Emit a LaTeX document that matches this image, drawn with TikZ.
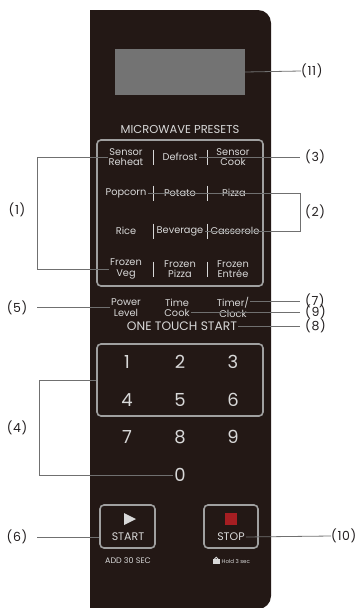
\documentclass[tikz,border=0pt]{standalone}
\usepackage{fontspec}
\setmainfont{Poppins}
\newfontfamily\labfont[LetterSpace=5]{Poppins}
\definecolor{panelc}{HTML}{231815}
\definecolor{dispc}{HTML}{737373}
\definecolor{framec}{HTML}{A0A0A0}
\definecolor{txtc}{HTML}{D8D8D8}
\definecolor{connc}{HTML}{707070}
\definecolor{labc}{HTML}{231F20}
\definecolor{redc}{HTML}{A61E22}
\begin{document}
\begin{tikzpicture}[x=1pt,y=-1pt,
  ptxt/.style={text=txtc, font=\fontsize{9.8}{10.3}\selectfont, align=center, inner sep=1pt},
  smalltxt/.style={text=txtc, inner sep=0.5pt},
  lab/.style={text=labc, font=\labfont\fontsize{12.5}{13}\selectfont, inner sep=0pt},
  conn/.style={draw=connc, line width=0.8pt},
  frame/.style={draw=framec, line width=1.6pt, rounded corners=4pt, inner sep=0pt},
  sepline/.style={draw=txtc, line width=1.1pt},
  digit/.style={text=txtc, font=\fontsize{18}{18}\selectfont, inner sep=0pt},
  btn/.style={text=txtc, font=\fontsize{11}{12}\selectfont, inner sep=1pt}]
\useasboundingbox (0,0) rectangle (360,608);
% panel
\fill[panelc, rounded corners=13pt] (90,10) rectangle (271,609);
\fill[panelc] (90,10) rectangle (180,609);
% display
\node[fill=dispc, minimum width=130, minimum height=46, inner sep=0pt] (disp) at (180,72) {};
\node[lab, anchor=west] (l11) at (301,71) {(11)};
\draw[conn] (disp.east) -- (l11.west);
% presets
\node[text=txtc, font=\fontsize{11.5}{12}\selectfont, inner sep=0pt] (mp) at (180,129) {MICROWAVE PRESETS};
\node[frame, minimum width=166, minimum height=146] (pf) at (180,213) {};
\node[ptxt] (sr) at (126,157) {Sensor\\Reheat};
\node[ptxt] (df) at (180,157) {Defrost};
\node[ptxt] (sc) at (233,157) {Sensor\\Cook};
\node[ptxt] (pc) at (126,193) {Popcorn};
\node[ptxt] (pt) at (180,193) {Potato};
\node[ptxt] (pz) at (234,193) {Pizza};
\node[ptxt] (rc) at (126,231) {Rice};
\node[ptxt] (bv) at (180,231) {Beverage};
\node[ptxt] (cs) at (235,231) {Casserole};
\node[ptxt] (fv) at (126,269) {Frozen\\Veg};
\node[ptxt] (fp) at (180,269) {Frozen\\Pizza};
\node[ptxt] (fe) at (233,269) {Frozen\\Entrée};
\foreach \r in {157,193,231,269}{
  \draw[sepline] (153.3,\r-7.5) -- (153.3,\r+7.5);
  \draw[sepline] (207.3,\r-7.5) -- (207.3,\r+7.5);
}
% (1)
\node[lab] (l1) at (17,210) {(1)};
\coordinate (b1t) at (37,157);
\coordinate (b1b) at (37,269);
\draw[conn] (sr.west) -- (b1t) -- (b1b) -- (fv.west);
% (3)
\node[lab, anchor=west] (l3) at (305,157) {(3)};
\draw[conn] (df.east) -- ([xshift=-5pt]l3.west);
% (2)
\node[lab, anchor=west] (l2) at (305,212) {(2)};
\coordinate (c2) at (300,193);
\draw[conn] (pc.east) -- (c2) |- (bv.east);
% power / time / timer
\node[ptxt] (pl) at (126,307.5) {Power\\Level};
\node[ptxt] (tk) at (177,307.5) {Time\\Cook};
\node[ptxt] (tm) at (233,307.5) {Timer/\\Clock};
\node[lab] (l5) at (17,307.5) {(5)};
\draw[conn] ([xshift=10pt]l5.east) -- (pl.west);
\node[lab, anchor=west] (l7) at (305,301) {(7)};
\draw[conn] ([yshift=6.5pt]tm.east) -- ([xshift=-5pt]l7.west);
\node[lab, anchor=west] (l9) at (305,312) {(9)};
\draw[conn] ([yshift=-4.5pt]tk.east) -- ([xshift=-5pt]l9.west);
% one touch start
\node[text=txtc, font=\fontsize{12.3}{13}\selectfont, inner sep=1pt] (ots) at (182,326) {ONE TOUCH START};
\node[lab, anchor=west] (l8) at (305,326) {(8)};
\draw[conn] (ots.east) -- ([xshift=-5pt]l8.west);
% keypad
\node[frame, minimum width=166, minimum height=72] (kp) at (180,380) {};
\node[digit] (d1) at (127,362) {1};
\node[digit] (d2) at (180,362) {2};
\node[digit] (d3) at (233,362) {3};
\node[digit] (d4) at (127,400) {4};
\node[digit] (d5) at (180,400) {5};
\node[digit] (d6) at (233,400) {6};
\node[digit] (d7) at (127,437) {7};
\node[digit] (d8) at (180,437) {8};
\node[digit] (d9) at (233,437) {9};
\node[digit] (d0) at (180,475) {0};
\node[lab] (l4) at (17,428) {(4)};
\coordinate (b4t) at (39,380);
\coordinate (b4b) at (39,475);
\draw[conn] (kp.west) -- (b4t) -- (b4b) -- ([xshift=-1pt]d0.west);
% start / stop
\node[frame, minimum width=55, minimum height=43] (sfr) at (127.5,526.5) {};
\node[frame, minimum width=54, minimum height=43] (tfr) at (231,526.5) {};
\fill[txtc] (124,513) -- (136,519) -- (124,525) -- cycle;
\fill[redc] (225,513) rectangle (237,525);
\node[btn] (stt) at (128,537) {START};
\node[btn] (stp) at (231,537) {STOP};
\node[smalltxt, font=\fontsize{8}{8.5}\selectfont] (add) at (128,561) {ADD 30 SEC};
\node[smalltxt, font=\fontsize{5.5}{6}\selectfont, anchor=west] (hold) at (221,561) {Hold 3 sec};
\fill[txtc] (213,559) rectangle (219.5,564);
\draw[txtc, line width=0.8pt] (214.5,559) arc (180:360:1.75);
\node[lab] (l6) at (17,537) {(6)};
\draw[conn] ([xshift=10pt]l6.east) -- (sfr.west |- stt.center);
\node[lab, anchor=west] (l10) at (331,536) {(10)};
\draw[conn] (stp.east) -- (l10.west);
\end{tikzpicture}
\end{document}
